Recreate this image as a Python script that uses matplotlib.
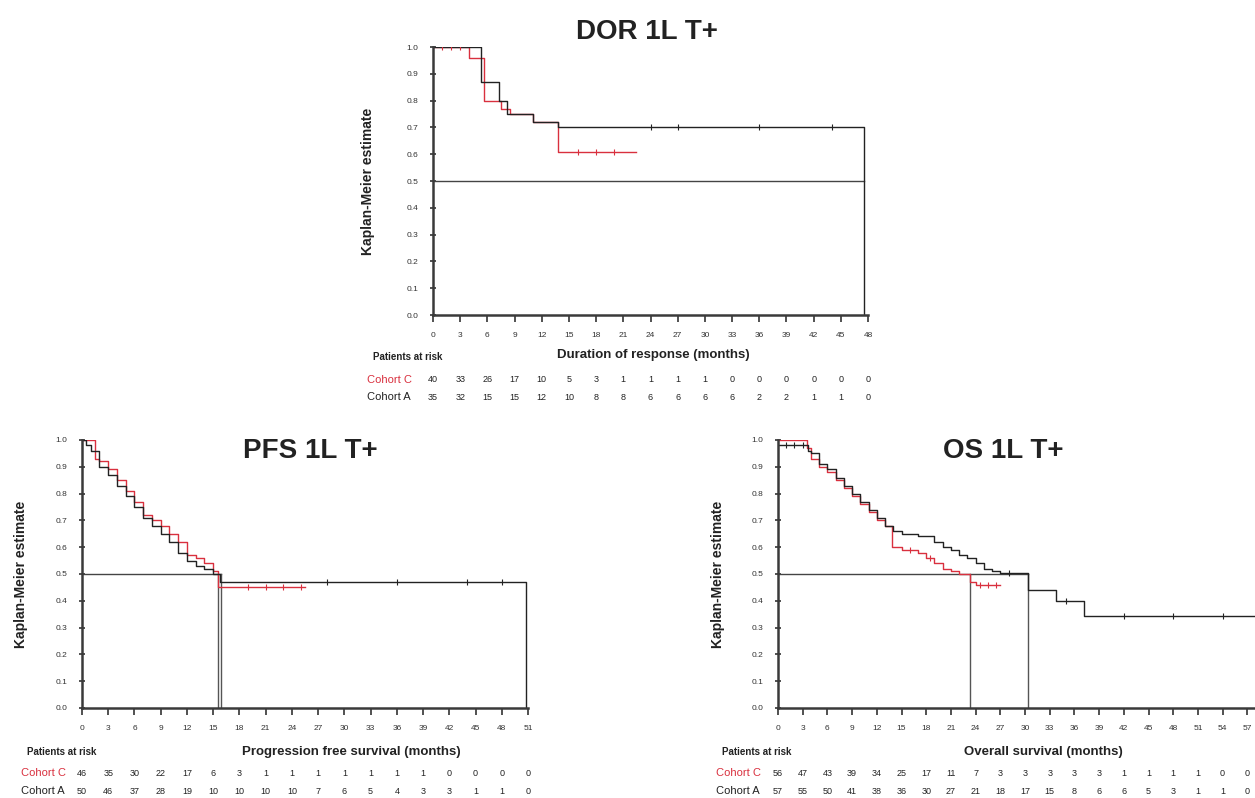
#!/usr/bin/python3

import matplotlib
matplotlib.use('Agg')
import matplotlib.pyplot as plt
import matplotlib.transforms as mtrans
import numpy as np

plt.rcParams['font.family'] = ['Liberation Sans', 'DejaVu Sans']

RED = '#d9303e'
DARK = '#222222'
W, H = 1255, 798

# ---- DOR ----
dor_ticks = list(range(0, 49, 3))
dor_a_t = [0, 5.3, 7.3, 8.2, 11.0, 13.8, 47.6, 47.6]
dor_a_s = [1.0, 0.87, 0.80, 0.75, 0.72, 0.70, 0.70, 0.0]
dor_c_t = [0, 4.0, 5.6, 7.5, 8.5, 11.0, 13.8, 22.4]
dor_c_s = [1.0, 0.96, 0.80, 0.77, 0.75, 0.72, 0.61, 0.61]
dor_a_cens_t = [24, 27, 36, 44]
dor_a_cens_s = [0.70, 0.70, 0.70, 0.70]
dor_c_cens_t = [1.0, 2.0, 3.0, 16, 18, 20]
dor_c_cens_s = [1.0, 1.0, 1.0, 0.61, 0.61, 0.61]
dor_risk_c = [40, 33, 26, 17, 10, 5, 3, 1, 1, 1, 1, 0, 0, 0, 0, 0, 0]
dor_risk_a = [35, 32, 15, 15, 12, 10, 8, 8, 6, 6, 6, 6, 2, 2, 1, 1, 0]

# ---- PFS ----
pfs_ticks = list(range(0, 52, 3))
pfs_a_t = [0, 0.5, 1, 2, 3, 4, 5, 6, 7, 8, 9, 10, 11, 12, 13, 14, 15, 15.8, 50.8, 50.8]
pfs_a_s = [1.0, 0.98, 0.96, 0.90, 0.87, 0.83, 0.79, 0.75, 0.71, 0.68, 0.65,
           0.62, 0.58, 0.55, 0.53, 0.52, 0.50, 0.47, 0.47, 0.0]
pfs_c_t = [0, 1.5, 2, 3, 4, 5, 6, 7, 8, 9, 10, 11, 12, 13, 14, 15, 15.6, 25.5]
pfs_c_s = [1.0, 0.93, 0.92, 0.89, 0.85, 0.81, 0.77, 0.72, 0.70, 0.68, 0.65,
           0.62, 0.57, 0.56, 0.54, 0.51, 0.45, 0.45]
pfs_a_cens_t = [28, 36, 44, 48]
pfs_a_cens_s = [0.47, 0.47, 0.47, 0.47]
pfs_c_cens_t = [19, 21, 23, 25]
pfs_c_cens_s = [0.45, 0.45, 0.45, 0.45]
pfs_medians = [15.6, 15.9]
pfs_risk_c = [46, 35, 30, 22, 17, 6, 3, 1, 1, 1, 1, 1, 1, 1, 0, 0, 0, 0]
pfs_risk_a = [50, 46, 37, 28, 19, 10, 10, 10, 10, 7, 6, 5, 4, 3, 3, 1, 1, 0]

# ---- OS ----
os_ticks = list(range(0, 58, 3))
os_a_t = [0, 3.6, 4, 5, 6, 7, 8, 9, 10, 11, 12, 13, 14, 15, 17, 19, 20, 21,
          22, 23, 24, 25, 26, 27, 30.4, 33.8, 37.2, 60]
os_a_s = [0.98, 0.96, 0.95, 0.91, 0.89, 0.86, 0.83, 0.80, 0.77, 0.74, 0.71,
          0.68, 0.66, 0.65, 0.64, 0.62, 0.60, 0.59, 0.57, 0.56, 0.54, 0.52,
          0.51, 0.505, 0.44, 0.40, 0.345, 0.345]
os_c_t = [0, 3.5, 4, 5, 6, 7, 8, 9, 10, 11, 12, 13, 13.8, 15, 17, 18, 19, 20,
          21, 22, 23.3, 24, 27]
os_c_s = [1.0, 0.97, 0.93, 0.90, 0.88, 0.85, 0.82, 0.79, 0.76, 0.73, 0.70,
          0.68, 0.60, 0.59, 0.58, 0.56, 0.54, 0.52, 0.51, 0.50, 0.47, 0.46, 0.46]
os_a_cens_t = [1, 2, 3, 28, 35, 42, 48, 54]
os_a_cens_s = [0.98, 0.98, 0.98, 0.505, 0.40, 0.345, 0.345, 0.345]
os_c_cens_t = [16, 18.5, 24.5, 25.5, 26.5]
os_c_cens_s = [0.59, 0.56, 0.46, 0.46, 0.46]
os_medians = [23.3, 30.4]
os_risk_c = [56, 47, 43, 39, 34, 25, 17, 11, 7, 3, 3, 3, 3, 3, 1, 1, 1, 1, 0, 0]
os_risk_a = [57, 55, 50, 41, 38, 36, 30, 27, 21, 18, 17, 15, 8, 6, 6, 5, 3, 1, 1, 0]


def fx(px):
	return px / W


def fy(py):
	return 1 - py / H


def km_panel(fig, box, xmax, title, title_xy, xlabel, xlabel_xy, ylabel_x, ticks,
             curve_a, curve_c, cens_a, cens_c, median_x, median_end,
             risk_c, risk_a, table_x, table_y):
	''' Draws one Kaplan-Meier panel with its patients at risk table
	box is (left, top, right, bottom) in pixels'''
	left, top, right, bottom = box
	ax = fig.add_axes([fx(left), fy(bottom), (right - left) / W, (bottom - top) / H])
	ax.set_xlim(0, xmax)
	ax.set_ylim(0, 1.0)
	for s in ['top', 'right']:
		ax.spines[s].set_visible(False)
	for s in ['left', 'bottom']:
		ax.spines[s].set_linewidth(1.8)
		ax.spines[s].set_color('#3a3a3a')

	# median reference lines
	ax.plot([0, median_end], [0.5, 0.5], color='#444444', lw=1.0)
	for m in median_x:
		ax.plot([m, m], [0, 0.5], color='#555555', lw=1.0)

	ax.step(curve_c[0], curve_c[1], where='post', color=RED, lw=1.0)
	ax.step(curve_a[0], curve_a[1], where='post', color=DARK, lw=1.0)
	ax.plot(cens_c[0], cens_c[1], linestyle='none', marker='|', color=RED, ms=4, mew=0.8)
	ax.plot(cens_a[0], cens_a[1], linestyle='none', marker='|', color=DARK, ms=4, mew=0.8)

	ax.set_xticks(ticks)
	ax.set_xticklabels([str(t) for t in ticks])
	yt = np.round(np.arange(0, 1.01, 0.1), 1)
	ax.set_yticks(yt)
	ax.set_yticklabels(['%.1f' % v for v in yt])
	ax.tick_params(axis='x', labelsize=6, length=5, width=1.2, colors='#333333', pad=7)
	ax.tick_params(axis='y', labelsize=6, length=5, width=1.2, colors='#333333',
		pad=8, direction='inout')

	ax.set_ylabel('Kaplan-Meier estimate', fontsize=10, fontweight='bold', color=DARK)
	ax.yaxis.set_label_coords((ylabel_x - left) / (right - left), 0.5)

	fig.text(fx(xlabel_xy[0]), fy(xlabel_xy[1]), xlabel, fontsize=9.5, fontweight='bold',
		ha='center', va='center', color=DARK)
	fig.text(fx(title_xy[0]), fy(title_xy[1]), title, fontsize=20, fontweight='bold',
		ha='center', va='center', color=DARK)

	# patients at risk table
	fig.text(fx(table_x), fy(table_y[0]), 'Patients at risk', fontsize=7,
		fontweight='bold', ha='left', va='center', color=DARK)
	fig.text(fx(table_x - 6), fy(table_y[1]), 'Cohort C', fontsize=8,
		color=RED, ha='left', va='center')
	fig.text(fx(table_x - 6), fy(table_y[2]), 'Cohort A', fontsize=8,
		color=DARK, ha='left', va='center')
	tr = mtrans.blended_transform_factory(ax.transData, fig.transFigure)
	for t, c, a in zip(ticks, risk_c, risk_a):
		ax.text(t, fy(table_y[1]), str(c), transform=tr, fontsize=6.5, ha='center',
			va='center', color=DARK, clip_on=False)
		ax.text(t, fy(table_y[2]), str(a), transform=tr, fontsize=6.5, ha='center',
			va='center', color=DARK, clip_on=False)
	return ax


def main():
	''' Builds the three panels and saves the figure'''
	fig = plt.figure(figsize=(W / 100, H / 100), dpi=100)

	km_panel(fig, (433, 47, 868, 315), 48, 'DOR 1L T+', (647, 32),
		'Duration of response (months)', (653, 355), 375, dor_ticks,
		(dor_a_t, dor_a_s), (dor_c_t, dor_c_s),
		(dor_a_cens_t, dor_a_cens_s), (dor_c_cens_t, dor_c_cens_s),
		[], 47.6, dor_risk_c, dor_risk_a, 373, (357, 380, 397))

	km_panel(fig, (82, 440, 528, 708), 51, 'PFS 1L T+', (310, 451),
		'Progression free survival (months)', (351, 752), 28, pfs_ticks,
		(pfs_a_t, pfs_a_s), (pfs_c_t, pfs_c_s),
		(pfs_a_cens_t, pfs_a_cens_s), (pfs_c_cens_t, pfs_c_cens_s),
		pfs_medians, 15.9, pfs_risk_c, pfs_risk_a, 27, (752, 773, 791))

	# the OS axis runs on past the right edge of the picture
	km_panel(fig, (778, 440, 1272, 708), 60, 'OS 1L T+', (1003, 451),
		'Overall survival (months)', (1043, 752), 725, os_ticks,
		(os_a_t, os_a_s), (os_c_t, os_c_s),
		(os_a_cens_t, os_a_cens_s), (os_c_cens_t, os_c_cens_s),
		os_medians, 30.4, os_risk_c, os_risk_a, 722, (752, 773, 791))

	plt.savefig('out.png', dpi=100)


if __name__ == '__main__':
	main()
